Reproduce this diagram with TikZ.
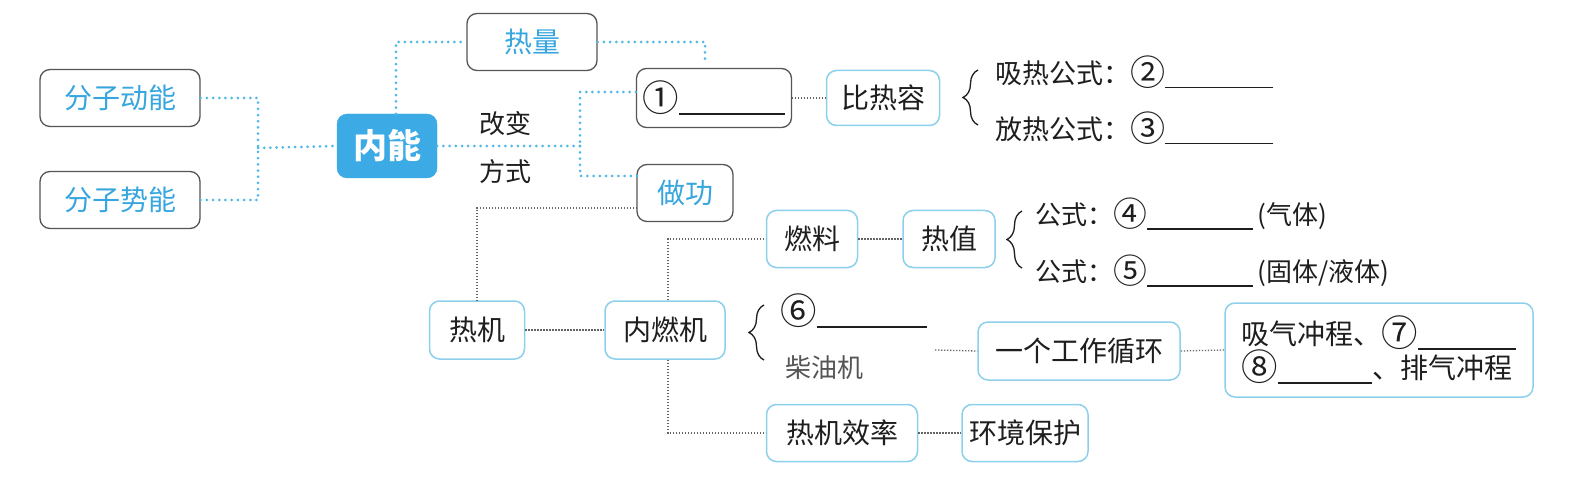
\documentclass[tikz,border=0pt]{standalone}
\usepackage{fontspec}
\setmainfont{Noto Sans CJK SC}
\usetikzlibrary{decorations.pathreplacing}
\definecolor{tblue}{RGB}{55,166,222}
\definecolor{fillblue}{RGB}{60,170,228}
\definecolor{bborder}{RGB}{140,208,236}
\definecolor{dotblue}{RGB}{80,185,230}
\definecolor{gborder}{RGB}{85,85,85}
\definecolor{dotgray}{RGB}{100,100,100}
\definecolor{txt}{RGB}{30,30,30}
\definecolor{softtxt}{RGB}{85,85,85}
\newcommand\myblank[1]{\rule[-5pt]{#1}{1.6pt}}
\newcommand\circnum[1]{\raisebox{-2pt}{\scalebox{1.3}{#1}}}
\begin{document}
\begin{tikzpicture}[x=1pt,y=-1pt,
  every node/.style={font=\fontsize{28}{34}\selectfont, text=txt},
  gbox/.style={draw=gborder, rounded corners=10pt, line width=1.3pt, minimum height=57pt, inner sep=0pt, fill=white},
  bbox/.style={draw=bborder, rounded corners=10pt, line width=1.5pt, minimum height=57pt, inner sep=0pt, fill=white},
  bl/.style={draw=dotblue, line width=3pt, line cap=round, dash pattern=on 0pt off 6.2pt},
  gd/.style={draw=dotgray, line width=1.3pt, dash pattern=on 1.3pt off 1.7pt},
  br/.style={draw=txt, line width=1.3pt, decorate, decoration={brace, amplitude=15pt}},
  lbl/.style={anchor=west, inner sep=0pt}
]
\fill[white] (0,0) rectangle (1570,478);
\useasboundingbox (0,0) rectangle (1570,478);

% left
\node[gbox, minimum width=160pt, text=tblue] (fzdn) at (120,98) {分子动能};
\node[gbox, minimum width=160pt, text=tblue] (fzsn) at (120,200) {分子势能};
\node[draw=fillblue, fill=fillblue, rounded corners=10pt, minimum width=100pt, minimum height=64pt, inner sep=0pt, text=white, font=\fontsize{34}{40}\selectfont\bfseries] (nn) at (387,146) {内能};
\node[gbox, minimum width=130pt, text=tblue] (rl) at (532,42) {热量};
\node[gbox, minimum width=155pt, minimum height=59pt] (q1) at (714,98) {\circnum{①}\myblank{106pt}};
\node[gbox, minimum width=96pt, text=tblue] (zg) at (685,193) {做功};
\node[inner sep=0pt, font=\fontsize{26}{30}\selectfont] (gb) at (505,124) {改变};
\node[inner sep=0pt, font=\fontsize{26}{30}\selectfont] (fs) at (505,172) {方式};

% specific heat
\node[bbox, minimum width=113pt, minimum height=55pt] (brr) at (883,98) {比热容};
\node[lbl, font=\fontsize{27}{32}\selectfont] (xr) at (995,72) {吸热公式：\circnum{②}\myblank{108pt}};
\node[lbl, font=\fontsize{27}{32}\selectfont] (fr) at (995,128) {放热公式：\circnum{③}\myblank{108pt}};

% heat engine
\node[bbox, minimum width=95pt, minimum height=58pt] (rj) at (477,330) {热机};
\node[bbox, minimum width=120pt, minimum height=58pt] (nrj) at (665,330) {内燃机};
\node[bbox, minimum width=91pt] (fuel) at (812,239) {燃料};
\node[bbox, minimum width=92pt] (rz) at (949,239) {热值};
\node[lbl, font=\fontsize{26}{30}\selectfont] (f4) at (1035,214) {公式：\circnum{④}\myblank{106pt}\,(气体)};
\node[lbl, font=\fontsize{26}{30}\selectfont] (f5) at (1035,271) {公式：\circnum{⑤}\myblank{106pt}\,(固体/液体)};
\node[bbox, minimum width=151pt] (eff) at (842,433) {热机效率};
\node[bbox, minimum width=126pt] (env) at (1025,433) {环境保护};
\node[lbl] (q6) at (780,311) {\circnum{⑥}\myblank{110pt}};
\node[lbl, text=softtxt, font=\fontsize{26}{30}\selectfont] (cy) at (785,368) {柴油机};
\node[bbox, minimum width=202pt, minimum height=58pt] (cyc) at (1079,351) {一个工作循环};
\node[bbox, minimum width=308pt, minimum height=94pt, align=left] (st) at (1379,350) {吸气冲程、\circnum{⑦}\myblank{98pt}\\\circnum{⑧}\myblank{94pt}、排气冲程};

% braces
\draw[br] (978,125) -- (978,70);
\draw[br] (1022,268) -- (1022,211);
\draw[br] (764,360) -- (764,305);

% blue connectors
\coordinate (j1) at (258,148);
\coordinate (j2) at (580,146);
\coordinate (zgin) at (637,176);
\draw[bl] (fzdn.east) -| (j1);
\draw[bl] (fzsn.east) -| (j1);
\draw[bl] (j1) -- (nn.west);
\draw[bl] ([xshift=9pt]nn.north) |- (rl.west);
\draw[bl, shorten >=8pt] (rl.east) -| ([xshift=-9pt]q1.north);
\draw[bl] (nn.east) -- (j2);
\draw[bl] ([yshift=6pt]q1.west) -| (j2);
\draw[bl] (zgin) -| (j2);

% gray connectors
\coordinate (zgout) at (637,208);
\coordinate (cyout) at (935,350);
\draw[gd] (q1.east) -- (brr.west);
\draw[gd] (zgout) -| (rj.north);
\draw[gd] (rj.east) -- (nrj.west);
\draw[gd] ([xshift=3pt]nrj.north) |- (fuel.west);
\draw[gd] ([xshift=3pt]nrj.south) |- (eff.west);
\draw[gd] (fuel.east) -- (rz.west);
\draw[gd] (eff.east) -- (env.west);
\draw[gd] (cyout) -- (cyc.west);
\draw[gd] (cyc.east) -- (st.west);
\end{tikzpicture}
\end{document}
